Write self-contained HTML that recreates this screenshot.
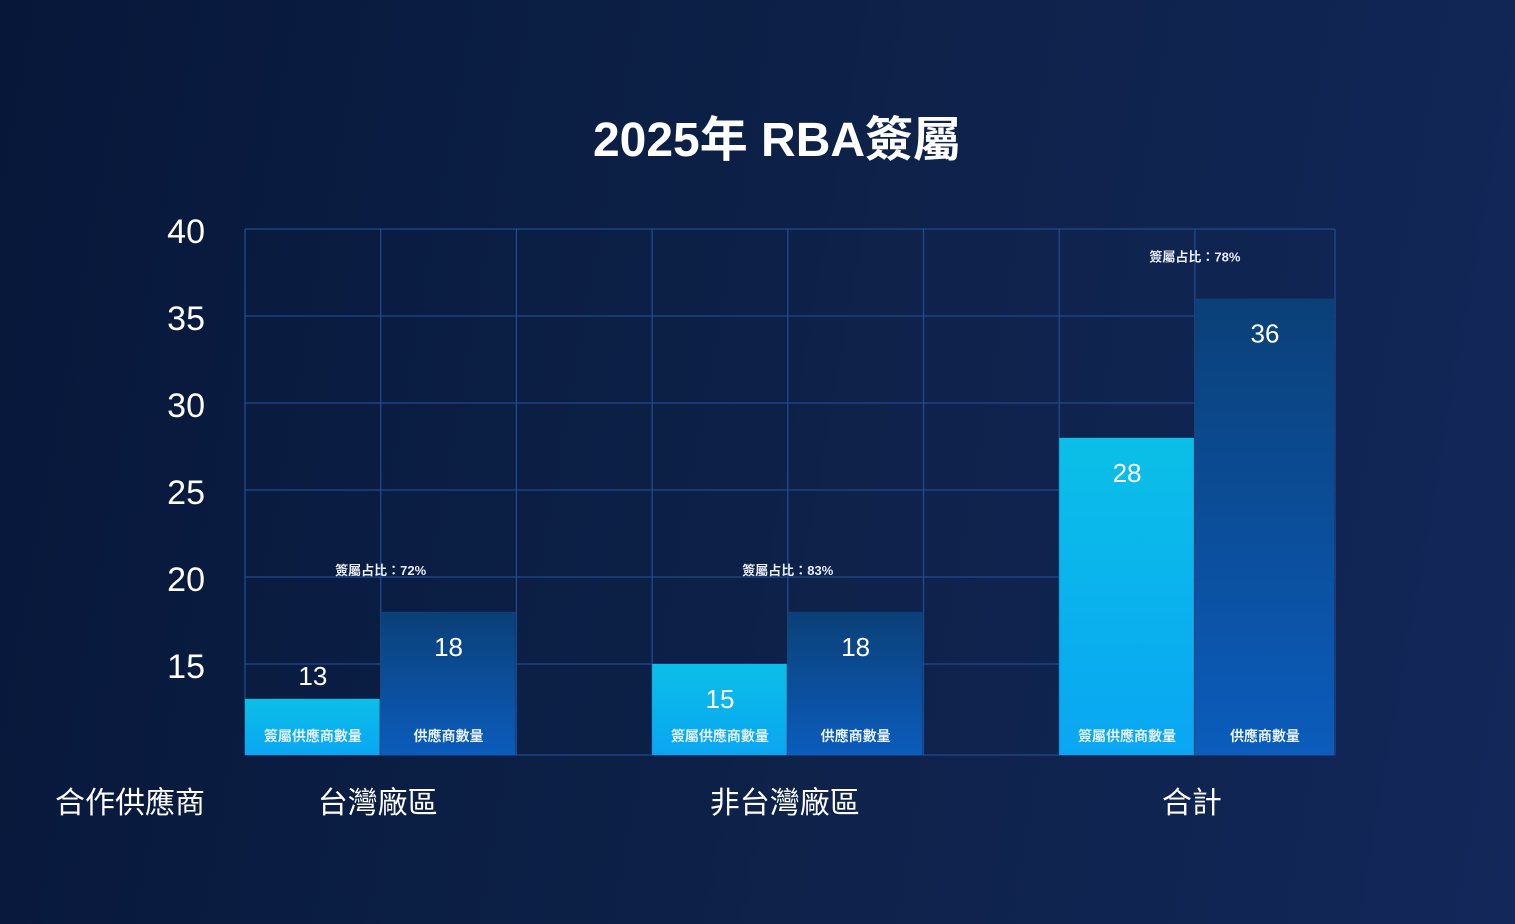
<!DOCTYPE html>
<html><head><meta charset="utf-8"><style>
html,body{margin:0;padding:0}
body{width:1515px;height:924px;overflow:hidden;background:linear-gradient(100deg,#07173a 0%,#0d2148 50%,#13275a 100%);font-family:"Liberation Sans","Noto Sans CJK TC",sans-serif;color:#fff}
svg{display:block}
</style></head><body>
<svg id="chart" width="1515" height="924" xmlns="http://www.w3.org/2000/svg">
<defs>
<linearGradient id="gl" x1="0" y1="0" x2="0" y2="1"><stop offset="0" stop-color="#0bbfe8"/><stop offset="1" stop-color="#0aa6f2"/></linearGradient>
<linearGradient id="gd" x1="0" y1="0" x2="0" y2="1"><stop offset="0" stop-color="#0b4078"/><stop offset="1" stop-color="#0b5cbc"/></linearGradient>
</defs>
<text x="777" y="156" text-anchor="middle" font-size="48" font-weight="bold" fill="#fff" font-family="Liberation Sans,Noto Sans CJK TC,sans-serif">2025年 RBA簽屬</text>
<g id="grid"></g><g id="bars"></g><g id="labels"></g>
</svg>
<script>
const categories=["台灣廠區","非台灣廠區","合計"];
const signedValues=[13,15,28];
const totalValues=[18,18,36];
const ratioLabels=["簽屬占比：72%","簽屬占比：83%","簽屬占比：78%"];
const yTicks=[15,20,25,30,35,40];
const NS="http://www.w3.org/2000/svg";
const plotLeft=245,plotRight=1335,plotTop=229,plotBase=755,colW=135.7;
function y(v){return plotTop+(40-v)*17.4;}
function colX(i){return i>=8?plotRight:plotLeft+i*colW;}
function el(tag,attrs,parent,text){const e=document.createElementNS(NS,tag);for(const k in attrs)e.setAttribute(k,attrs[k]);if(text!==undefined)e.textContent=text;parent.appendChild(e);return e;}
const grid=document.getElementById('grid'),bars=document.getElementById('bars'),labels=document.getElementById('labels');
yTicks.forEach(t=>{
 const l=el('line',{x1:plotLeft,x2:plotRight,y1:y(t),y2:y(t),stroke:'#1f4a8e','stroke-width':1.3},grid);
 
 
 const tx=el('text',{x:205,y:y(t)+14,'text-anchor':'end','font-size':34,fill:'#fff'},grid,String(t));
 
 
});
for(let i=0;i<=8;i++){
 const l=el('line',{x1:colX(i),x2:colX(i),y1:plotTop,y2:plotBase,stroke:'#1f4a8e','stroke-width':1.3},grid);
 
 
}
const bl=el('line',{x1:plotLeft,x2:plotRight,y1:plotBase,y2:plotBase,stroke:'#1f4a8e','stroke-width':1.3},grid);


const xa=el('text',{x:205,y:813,'text-anchor':'end','font-size':30,fill:'#fff'},labels,'合作供應商');


categories.forEach((c,i)=>{
 [[signedValues[i],'url(#gl)','簽屬供應商數量',0],[totalValues[i],'url(#gd)','供應商數量',1]].forEach(([v,fill,name,k])=>{
  const x=colX(i*3+k),x2=colX(i*3+k+1),w=x2-x,t=y(v);
  const r=el('rect',{x:x,y:t,width:w-1,height:plotBase-t,fill:fill},bars);
  
  
  const inside=(plotBase-t)>80;
  const vl=el('text',{x:x+w/2,y:inside?t+44:t-14,'text-anchor':'middle','font-size':26,fill:'#fff'},labels,String(v));
  
  
  const nl=el('text',{x:x+w/2,y:741,'text-anchor':'middle','font-size':14,'font-weight':'bold',fill:'#e8f2ff'},labels,name);
  
  
 });
 const cx=colX(i*3+1);
 const rt=el('text',{x:cx,y:y(totalValues[i])-37,'text-anchor':'middle','font-size':13,'font-weight':'bold',fill:'#e8eef8'},labels,ratioLabels[i]);
 
 
 const cl=el('text',{x:cx-3,y:813,'text-anchor':'middle','font-size':30,fill:'#fff'},labels,c);
 
 
});
</script>
</body></html>
